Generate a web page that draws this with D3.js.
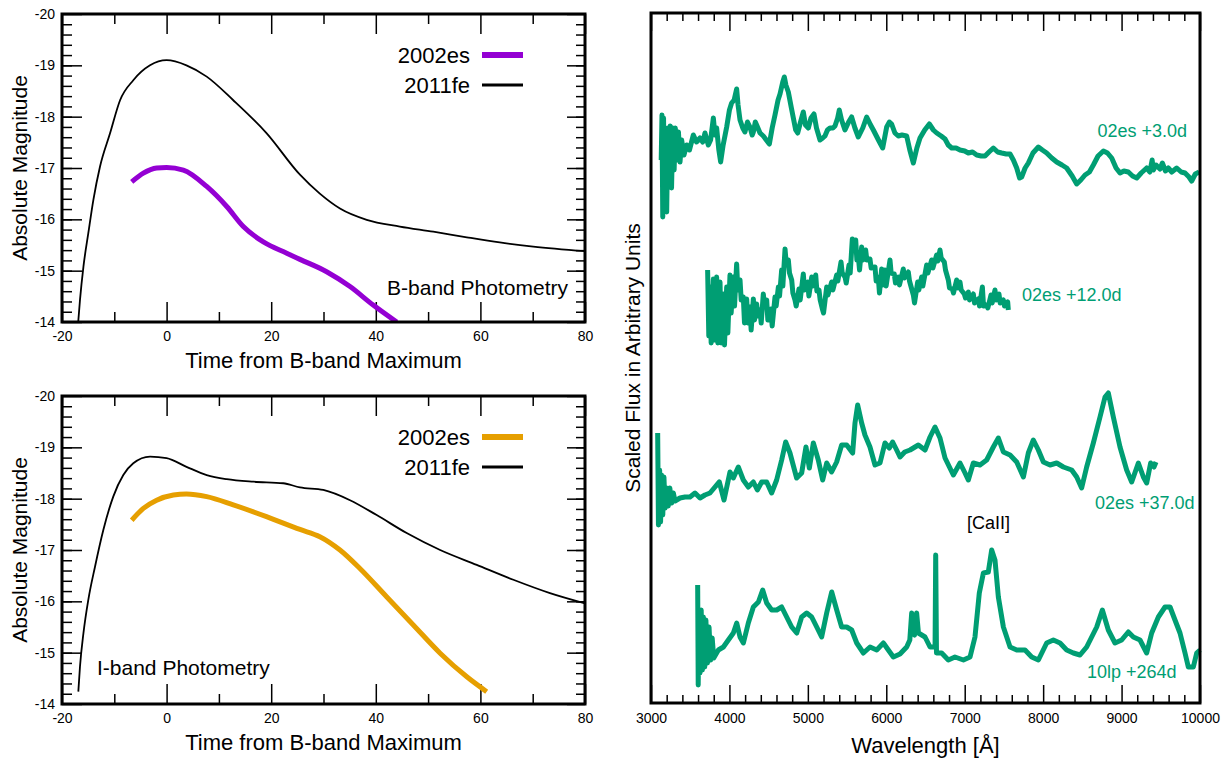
<!DOCTYPE html>
<html>
<head>
<meta charset="utf-8">
<script src="https://cdn.jsdelivr.net/npm/d3@7"></script>
</head>
<body>
<script>
var bTime11fe = [-16.9, -16.56, -15.9, -14.97, -14.0, -12.73, -10.8, -8.9, -6.37, -3.17, 0, 3.8, 7.67, 12.75, 19.1, 25.5, 29.3, 33.15, 38.26, 44.6, 51.0, 57.4, 63.7, 70.1, 80];
var bMag11fe = [-14.0, -14.43, -15.08, -15.73, -16.38, -17.03, -17.68, -18.32, -18.71, -19.0, -19.1, -19.0, -18.78, -18.32, -17.68, -16.87, -16.5, -16.21, -15.99, -15.86, -15.76, -15.65, -15.55, -15.47, -15.38];
var bTime02es = [-6.67, -4.45, -1.9, 0, 3.2, 7.67, 11.5, 14.67, 18.5, 22.97, 25.5, 30.6, 35.07, 39.5, 44.0];
var bMag02es = [-16.73, -16.9, -17.0, -17.01, -16.96, -16.64, -16.25, -15.86, -15.56, -15.34, -15.22, -14.98, -14.69, -14.33, -14.0];
var iTime11fe = [-16.88, -16.56, -15.9, -14.97, -13.7, -12.1, -10.2, -8.28, -6.37, -3.17, 0, 3.8, 7.67, 11.5, 16.6, 22.3, 25.5, 29.96, 35.07, 40.17, 45.9, 52.3, 59.3, 66.3, 73.3, 80];
var iMag11fe = [-14.24, -14.73, -15.38, -16.03, -16.67, -17.39, -18.04, -18.46, -18.69, -18.82, -18.79, -18.62, -18.46, -18.38, -18.33, -18.3, -18.22, -18.17, -17.97, -17.68, -17.33, -17.0, -16.71, -16.42, -16.16, -15.96];
var iTime02es = [-6.67, -4.45, -1.9, 1.3, 3.8, 7.67, 12.75, 19.1, 25.5, 29.3, 33.15, 36.96, 42.06, 47.17, 52.3, 57.4, 61.2];
var iMag02es = [-17.58, -17.81, -17.97, -18.07, -18.09, -18.04, -17.88, -17.65, -17.4, -17.26, -17.0, -16.64, -16.09, -15.54, -14.99, -14.53, -14.24];

var timeTicks = [-20, 0, 20, 40, 60, 80];
var magTicks = [-20, -19, -18, -17, -16, -15, -14];
var waveTicks = [3000, 4000, 5000, 6000, 7000, 8000, 9000, 10000];

//spectra, [wavelength, scaled flux]
var spec02es3d = [[3130,54.3],[3140,58.8],[3150,48.6],[3160,58.5],[3172,50.3],[3185,57.3],[3200,49.1],[3215,57.5],[3230,51.8],[3245,57.7],[3262,51.5],[3278,57.5],[3295,53.3],[3310,57.5],[3330,54.3],[3350,57.1],[3370,54.1],[3391,56.3],[3420,54.8],[3455,55.8],[3490,55.3],[3540,56.8],[3580,56.1],[3625,56.5],[3660,56.1],[3688,57.0],[3731,55.8],[3760,56.3],[3795,58.5],[3815,56.8],[3837,57.5],[3865,55.3],[3888,54.1],[3920,55.8],[3965,57.6],[4000,59.3],[4028,60.0],[4060,60.3],[4092,61.4],[4110,59.8],[4135,58.3],[4170,57.5],[4198,57.1],[4230,58.1],[4262,57.6],[4290,56.8],[4305,57.1],[4330,58.1],[4347,57.8],[4390,57.0],[4432,56.7],[4470,56.3],[4509,55.9],[4545,57.5],[4581,58.8],[4620,60.3],[4645,60.9],[4680,62.1],[4700,62.6],[4720,61.8],[4751,61.1],[4790,59.5],[4815,58.5],[4845,57.3],[4870,57.0],[4900,57.9],[4942,59.1],[4970,57.8],[5006,57.5],[5040,58.5],[5078,58.9],[5110,57.5],[5155,56.3],[5190,56.5],[5218,56.7],[5250,57.3],[5282,57.5],[5320,57.5],[5346,57.7],[5380,58.5],[5401,59.3],[5430,58.3],[5473,57.3],[5520,58.1],[5558,58.6],[5600,57.5],[5643,56.6],[5700,57.5],[5750,58.6],[5800,57.8],[5835,57.3],[5900,56.3],[5954,55.5],[6005,57.6],[6040,58.1],[6068,57.9],[6110,57.0],[6153,56.7],[6200,56.8],[6260,56.7],[6300,55.3],[6345,54.0],[6390,55.5],[6430,56.5],[6490,57.3],[6549,57.9],[6600,57.3],[6643,57.0],[6700,56.7],[6749,56.4],[6790,55.8],[6834,55.5],[6890,55.5],[6940,55.3],[7000,55.2],[7046,55.0],[7100,55.1],[7153,54.8],[7210,54.7],[7259,54.7],[7310,55.1],[7365,55.5],[7420,55.1],[7471,55.0],[7530,54.9],[7578,54.9],[7620,54.3],[7663,53.5],[7700,52.5],[7726,52.6],[7770,53.5],[7811,54.0],[7870,55.0],[7939,55.6],[7990,55.3],[8045,55.0],[8110,54.5],[8173,54.1],[8240,53.8],[8300,53.5],[8370,52.7],[8428,51.9],[8480,52.3],[8534,52.8],[8590,53.1],[8640,53.8],[8700,54.7],[8768,55.2],[8820,55.0],[8874,54.5],[8930,53.5],[8980,53.0],[9030,53.2],[9086,53.1],[9140,52.7],[9193,52.5],[9250,53.0],[9320,53.5],[9360,53.1],[9390,54.3],[9405,53.3],[9440,53.8],[9490,53.4],[9520,54.0],[9560,53.2],[9596,53.5],[9640,53.1],[9703,53.5],[9760,53.1],[9809,53.0],[9860,52.6],[9894,52.2],[9940,52.9],[9990,53.1]];

var spec02es12d = [[3722,43.3],[3737,36.7],[3752,41.6],[3767,36.0],[3795,42.4],[3810,36.3],[3837,42.6],[3852,36.0],[3880,42.1],[3895,36.0],[3922,40.9],[3937,35.8],[3965,41.6],[3980,37.0],[4007,42.8],[4022,39.0],[4050,42.6],[4065,39.7],[4092,43.9],[4107,41.3],[4135,42.3],[4150,40.3],[4177,40.6],[4192,38.0],[4220,40.4],[4235,38.0],[4262,39.6],[4277,37.3],[4305,40.4],[4320,38.3],[4347,39.9],[4362,38.7],[4390,39.3],[4405,38.0],[4432,40.9],[4447,39.7],[4475,40.3],[4490,38.3],[4530,39.4],[4545,37.7],[4581,40.6],[4596,39.7],[4624,41.6],[4639,40.7],[4666,43.3],[4681,41.7],[4709,45.4],[4724,44.0],[4751,44.3],[4766,43.0],[4794,42.3],[4809,41.0],[4836,40.3],[4851,39.7],[4887,41.4],[4902,40.3],[4942,42.9],[4957,41.3],[4998,42.1],[5013,40.7],[5049,42.6],[5064,41.7],[5100,42.8],[5115,41.2],[5142,41.3],[5157,40.3],[5185,39.4],[5200,39.0],[5240,41.6],[5255,40.8],[5304,42.1],[5319,41.3],[5367,42.8],[5382,42.2],[5423,44.1],[5438,43.0],[5474,42.6],[5489,42.0],[5525,43.8],[5540,43.0],[5567,46.4],[5582,45.3],[5610,46.3],[5625,44.3],[5644,44.6],[5659,43.3],[5686,45.6],[5701,44.3],[5737,45.3],[5752,44.3],[5792,44.4],[5807,43.5],[5856,43.6],[5871,42.2],[5898,42.6],[5913,41.0],[5941,43.4],[5956,41.8],[5983,43.3],[5998,41.7],[6047,44.3],[6062,43.0],[6102,42.9],[6117,42.0],[6153,42.6],[6168,41.8],[6217,43.4],[6232,42.5],[6281,43.1],[6296,42.2],[6345,40.8],[6360,40.0],[6400,42.1],[6415,41.3],[6451,42.6],[6466,41.7],[6515,43.8],[6530,43.0],[6579,44.3],[6594,43.5],[6642,44.8],[6657,44.2],[6685,45.3],[6700,44.5],[6740,44.1],[6755,43.3],[6791,42.3],[6806,41.5],[6842,41.4],[6857,41.0],[6897,42.3],[6912,41.5],[6940,42.1],[6955,41.3],[6995,40.9],[7010,40.5],[7046,41.1],[7061,40.3],[7110,40.9],[7125,40.0],[7174,40.4],[7189,39.7],[7225,41.6],[7240,39.7],[7280,39.8],[7295,39.5],[7335,40.8],[7350,40.0],[7386,41.3],[7401,40.3],[7437,40.9],[7452,40.0],[7492,40.3],[7507,39.7],[7548,40.1],[7556,39.3]];

var spec02es37d = [[3085,27.0],[3095,17.8],[3110,23.3],[3122,18.1],[3135,22.8],[3150,18.8],[3165,22.6],[3180,19.5],[3200,21.5],[3220,19.7],[3240,21.5],[3263,20.0],[3285,21.0],[3306,20.2],[3370,20.5],[3433,20.6],[3497,20.6],[3561,21.0],[3625,20.5],[3688,20.8],[3752,21.0],[3816,21.6],[3871,22.1],[3931,20.3],[4007,23.1],[4050,22.5],[4113,23.6],[4177,22.3],[4241,21.6],[4305,22.1],[4356,21.3],[4411,22.1],[4475,22.1],[4538,21.0],[4602,22.3],[4666,24.3],[4717,26.1],[4772,25.0],[4857,22.5],[4921,23.0],[4976,25.6],[5019,23.5],[5070,26.0],[5133,24.3],[5189,22.3],[5240,24.0],[5303,23.1],[5367,24.1],[5431,25.8],[5495,25.8],[5571,25.0],[5601,28.0],[5635,29.8],[5686,28.0],[5728,26.8],[5792,25.6],[5856,23.8],[5920,24.0],[5983,26.0],[6039,25.5],[6081,26.1],[6132,25.3],[6175,24.6],[6235,25.1],[6303,25.3],[6409,25.8],[6494,25.3],[6558,26.6],[6621,27.6],[6685,26.5],[6749,24.5],[6855,22.8],[6940,24.0],[7004,23.0],[7046,22.3],[7110,24.0],[7195,23.8],[7280,24.3],[7365,25.6],[7429,26.5],[7493,25.1],[7578,24.8],[7663,24.1],[7748,22.6],[7811,25.0],[7875,26.3],[7939,25.3],[8003,24.1],[8088,23.8],[8173,24.0],[8258,23.6],[8364,23.3],[8428,22.6],[8491,21.5],[8555,23.6],[8640,26.0],[8725,28.6],[8789,30.6],[8831,31.0],[8895,28.6],[8980,25.6],[9065,23.3],[9129,22.1],[9214,24.0],[9278,22.6],[9320,22.0],[9371,24.0],[9413,23.6],[9439,24.1]];

var spec10lp264d = [[3595,11.8],[3602,1.8],[3612,9.0],[3625,3.0],[3640,9.3],[3655,3.3],[3668,8.6],[3685,3.6],[3700,8.3],[3720,4.0],[3740,7.6],[3760,4.3],[3780,6.5],[3800,4.5],[3859,5.3],[3923,5.6],[3986,6.3],[4050,7.0],[4093,8.0],[4135,6.6],[4178,6.0],[4241,8.0],[4305,9.6],[4369,10.1],[4424,11.3],[4475,10.0],[4539,9.3],[4603,9.3],[4666,9.6],[4730,8.6],[4794,7.6],[4858,7.0],[4921,8.6],[4985,9.0],[5049,8.6],[5113,7.6],[5176,6.6],[5240,9.0],[5304,11.1],[5368,9.3],[5431,7.6],[5495,7.6],[5559,7.3],[5623,6.0],[5708,5.0],[5793,5.6],[5878,5.3],[5963,6.0],[6026,5.3],[6090,4.6],[6175,4.9],[6260,5.6],[6300,6.3],[6324,9.0],[6340,7.0],[6360,6.8],[6387,9.0],[6410,7.0],[6494,6.6],[6558,5.6],[6600,5.6],[6622,5.6],[6630,14.8],[6640,5.0],[6706,5.0],[6791,4.3],[6876,4.6],[6983,4.3],[7068,4.6],[7131,6.6],[7186,11.0],[7238,13.0],[7301,13.1],[7344,15.3],[7386,14.3],[7429,10.6],[7493,7.6],[7578,5.6],[7663,5.3],[7769,5.3],[7854,4.6],[7939,4.3],[8045,6.0],[8130,6.3],[8215,6.0],[8300,5.3],[8385,5.0],[8470,4.8],[8555,5.6],[8683,7.6],[8755,9.3],[8831,7.3],[8916,6.0],[9001,6.3],[9086,7.1],[9150,6.6],[9235,6.3],[9320,5.0],[9384,7.0],[9469,8.6],[9554,9.6],[9618,9.6],[9681,8.3],[9745,7.0],[9809,5.0],[9851,3.6],[9915,3.6],[9958,5.0],[10000,5.3]];

var purple = "#9400D3", orange = "#E69F00", green = "#009E73";
var font = "Liberation Sans, Arial, sans-serif";

d3.select("body").style("margin", "0");

var svg = d3.select("body").append("svg")
	.attr("width", 1232)
	.attr("height", 758)
	.attr("font-family", font)
	.style("display", "block");

//axis with inward ticks; labels only when fmt is given
function edgeAxis(g, axis, values, size, fmt, pad){
	axis.tickValues(values).tickSize(-size).tickPadding(pad || 8)
		.tickFormat(fmt ? fmt : function(){ return ""; });
	g.call(axis);
	g.attr("font-size", 14).attr("font-family", font);
	g.select(".domain").remove();
	g.selectAll(".tick line").attr("stroke-width", 1.5);
	g.selectAll(".tick text").text(function(){ return d3.select(this).text().replace("\u2212", "-"); });
	return g;
}

//draws one light curve panel
function lightPanel(top, id, series, bandLabel, labelRight){
	var w = 523, h = 308;
	var g = svg.append("g").attr("transform", "translate(62," + top + ")");
	var x = d3.scaleLinear().domain([-20, 80]).range([0, w]);
	var y = d3.scaleLinear().domain([-20, -14]).range([0, h]);

	g.append("clipPath").attr("id", id)
		.append("rect").attr("width", w).attr("height", h);

	var minorT = [-10, 10, 30, 50, 70];
	var minorM = d3.range(-19.8, -14.05, 0.2);
	edgeAxis(g.append("g").attr("transform", "translate(0," + h + ")"), d3.axisBottom(x), minorT, 10);
	edgeAxis(g.append("g").attr("transform", "translate(0," + h + ")"), d3.axisBottom(x), timeTicks, 20, d3.format("d"), 9);
	edgeAxis(g.append("g"), d3.axisTop(x), minorT, 10);
	edgeAxis(g.append("g"), d3.axisTop(x), timeTicks, 20);
	edgeAxis(g.append("g"), d3.axisLeft(y), minorM, 10);
	edgeAxis(g.append("g"), d3.axisLeft(y), magTicks, 20, d3.format("d"), 7);
	edgeAxis(g.append("g").attr("transform", "translate(" + w + ",0)"), d3.axisRight(y), minorM, 9);
	edgeAxis(g.append("g").attr("transform", "translate(" + w + ",0)"), d3.axisRight(y), magTicks, 18);

	var line = d3.line()
		.x(function(d){ return x(d[0]); })
		.y(function(d){ return y(d[1]); })
		.curve(d3.curveMonotoneX);

	series.forEach(function(s){
		g.append("path")
			.datum(d3.zip(s.t, s.m))
			.attr("clip-path", "url(#" + id + ")")
			.attr("d", line)
			.attr("fill", "none")
			.attr("stroke", s.color)
			.attr("stroke-width", s.width);
	});

	//legend
	series.forEach(function(s, i){
		var ly = 41 + i * 30;
		g.append("text").attr("x", 408).attr("y", ly + 8)
			.attr("text-anchor", "end").attr("font-size", 22).text(s.name);
		g.append("line").attr("x1", 420).attr("x2", 461).attr("y1", ly).attr("y2", ly)
			.attr("stroke", s.color).attr("stroke-width", s.width + 1);
	});

	g.append("text")
		.attr("x", labelRight ? 506 : 35)
		.attr("y", labelRight ? 281 : 279)
		.attr("text-anchor", labelRight ? "end" : "start")
		.attr("font-size", 21)
		.text(bandLabel);

	g.append("text").attr("x", w / 2).attr("y", h + 46)
		.attr("text-anchor", "middle").attr("font-size", 22)
		.text("Time from B-band Maximum");
	g.append("text").attr("transform", "translate(-35," + (h / 2) + ") rotate(-90)")
		.attr("text-anchor", "middle").attr("font-size", 21)
		.text("Absolute Magnitude");

	g.append("rect").attr("width", w).attr("height", h)
		.attr("fill", "none").attr("stroke", "#000").attr("stroke-width", 3);
}

lightPanel(14, "clipB", [
	{name: "2002es", t: bTime02es, m: bMag02es, color: purple, width: 5},
	{name: "2011fe", t: bTime11fe, m: bMag11fe, color: "#000", width: 1.8}
], "B-band Photometry", true);

lightPanel(396, "clipI", [
	{name: "2002es", t: iTime02es, m: iMag02es, color: orange, width: 5},
	{name: "2011fe", t: iTime11fe, m: iMag11fe, color: "#000", width: 1.8}
], "I-band Photometry", false);

//spectra panel
var sw = 549, sh = 690;
var sg = svg.append("g").attr("transform", "translate(651,13)");
var xw = d3.scaleLinear().domain([3000, 10000]).range([0, sw]);
var yf = d3.scaleLinear().domain([0, 69]).range([sh, 0]);

var minorW = d3.range(3200, 10000, 200).filter(function(v){ return v % 1000; });
edgeAxis(sg.append("g").attr("transform", "translate(0," + sh + ")"), d3.axisBottom(xw), minorW, 8);
edgeAxis(sg.append("g").attr("transform", "translate(0," + sh + ")"), d3.axisBottom(xw), waveTicks, 18, d3.format("d"), 10);
edgeAxis(sg.append("g"), d3.axisTop(xw), minorW, 8);
edgeAxis(sg.append("g"), d3.axisTop(xw), waveTicks, 18);

var specLine = d3.line()
	.x(function(d){ return xw(d[0]); })
	.y(function(d){ return yf(d[1]); });

[spec02es3d, spec02es12d, spec02es37d, spec10lp264d].forEach(function(s){
	sg.append("path")
		.datum(s)
		.attr("d", specLine)
		.attr("fill", "none")
		.attr("stroke", green)
		.attr("stroke-width", 5)
		.attr("stroke-linejoin", "round");
});

//spectrum labels
var specLabels = [
	{text: "02es +3.0d", x: 536, y: 124, anchor: "end", color: green},
	{text: "02es +12.0d", x: 371, y: 288, anchor: "start", color: green},
	{text: "02es +37.0d", x: 444, y: 496, anchor: "start", color: green},
	{text: "[CaII]", x: 316, y: 516, anchor: "start", color: "#000"},
	{text: "10lp +264d", x: 436, y: 665, anchor: "start", color: green}
];
sg.selectAll(".specLabel")
	.data(specLabels)
	.enter()
	.append("text")
	.attr("class", "specLabel")
	.attr("x", function(d){ return d.x; })
	.attr("y", function(d){ return d.y; })
	.attr("text-anchor", function(d){ return d.anchor; })
	.attr("font-size", 18)
	.attr("fill", function(d){ return d.color; })
	.text(function(d){ return d.text; });

sg.append("text").attr("x", sw / 2).attr("y", sh + 50)
	.attr("text-anchor", "middle").attr("font-size", 22)
	.text("Wavelength [Å]");
sg.append("text").attr("transform", "translate(-11," + (sh / 2) + ") rotate(-90)")
	.attr("text-anchor", "middle").attr("font-size", 21)
	.text("Scaled Flux in Arbitrary Units");

sg.append("rect").attr("width", sw).attr("height", sh)
	.attr("fill", "none").attr("stroke", "#000").attr("stroke-width", 3);
</script>
</body>
</html>
